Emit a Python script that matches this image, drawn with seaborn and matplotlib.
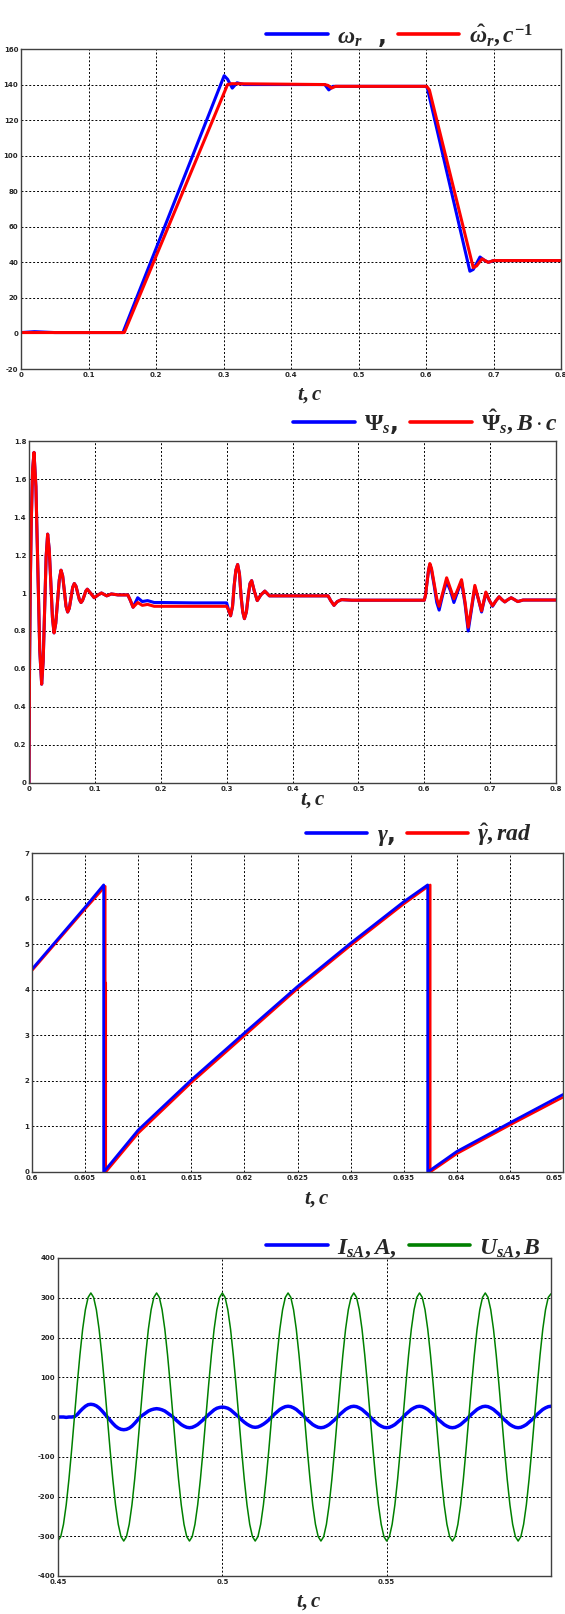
import numpy as np
import matplotlib
matplotlib.use("Agg")
import matplotlib.pyplot as plt
from matplotlib.lines import Line2D
from matplotlib.ticker import FuncFormatter
import seaborn as sns

# panel 1: rotor speed, measured (blue) and estimated (red)
w_t_act = [0, 0.02, 0.05, 0.151, 0.301, 0.306, 0.313, 0.32, 0.33, 0.45, 0.456, 0.462,
           0.47, 0.6, 0.602, 0.665, 0.67, 0.68, 0.687, 0.693, 0.7, 0.8]
w_act = [0.5, 1, 0.5, 0.5, 145, 143, 138, 141, 140, 140, 137, 139,
         139, 139, 138, 35, 36, 43, 41, 40, 41, 41]
w_t_est = [0, 0.153, 0.306, 0.312, 0.45, 0.455, 0.46, 0.466, 0.601, 0.605, 0.67,
           0.675, 0.683, 0.692, 0.7, 0.8]
w_est = [0.5, 0.5, 140, 140.5, 140, 139.5, 138, 139, 139, 137, 37,
         38, 42, 40, 41, 41]

# panel 2: stator flux linkage
psi_t = [0, 0.0008, 0.002, 0.0035, 0.0055, 0.0076, 0.0105, 0.0134, 0.0163, 0.0192,
         0.0215, 0.02375, 0.026, 0.0283, 0.0307, 0.0332, 0.0356, 0.038, 0.0406, 0.0433,
         0.046, 0.0486, 0.0511, 0.0537, 0.0562, 0.0587, 0.0612, 0.0638, 0.0663, 0.0688,
         0.0714, 0.0739, 0.0765, 0.079, 0.0812, 0.0838, 0.0862, 0.0885, 0.094, 0.099,
         0.105, 0.11, 0.118, 0.125, 0.135, 0.15, 0.154, 0.158, 0.165, 0.172, 0.18, 0.19,
         0.2, 0.25, 0.3, 0.303, 0.306, 0.309, 0.3115, 0.314, 0.3167, 0.3195, 0.322, 0.3245,
         0.327, 0.33, 0.333, 0.3355, 0.338, 0.342, 0.3465, 0.352, 0.358, 0.365, 0.38,
         0.4, 0.43, 0.454, 0.458, 0.463, 0.468, 0.4745, 0.49, 0.55, 0.6, 0.602, 0.604,
         0.6065, 0.6085, 0.611, 0.615, 0.619, 0.6226, 0.628, 0.634, 0.64, 0.645, 0.651,
         0.6566, 0.662, 0.6667, 0.672, 0.6768, 0.682, 0.687, 0.6935, 0.699, 0.7037,
         0.709, 0.7137, 0.718, 0.7223, 0.727, 0.732, 0.737, 0.742, 0.75, 0.8]
psi_act = [0, 0.6, 1.05, 1.38, 1.65, 1.74, 1.56, 1.13, 0.70, 0.52,
           0.64, 0.915, 1.19, 1.31, 1.23, 1.05, 0.87, 0.79, 0.84, 0.955,
           1.07, 1.12, 1.09, 1.01, 0.93, 0.9, 0.92, 0.975, 1.03, 1.05,
           1.035, 1.0, 0.965, 0.95, 0.96, 0.985, 1.01, 1.02, 0.997, 0.975,
           0.99, 1.0, 0.985, 0.995, 0.99, 0.99, 0.96, 0.925, 0.975, 0.955, 0.96, 0.95,
           0.95, 0.948, 0.948, 0.91, 0.88, 0.93, 1.04, 1.12, 1.15, 1.1, 0.98, 0.9,
           0.865, 0.9, 0.99, 1.05, 1.065, 1.01, 0.96, 0.99, 1.01, 0.985, 0.985,
           0.985, 0.985, 0.985, 0.96, 0.935, 0.955, 0.965, 0.962, 0.962, 0.962, 0.99, 1.05,
           1.12, 1.15, 1.12, 1.04, 0.95, 0.91, 0.99, 1.06, 1.01, 0.95, 1.01,
           1.06, 0.94, 0.80, 0.92, 1.03, 0.97, 0.9, 1.0, 0.96, 0.93,
           0.96, 0.98, 0.965, 0.953, 0.965, 0.975, 0.965, 0.955, 0.963, 0.963]
psi_est = [0, 0.6, 1.05, 1.38, 1.65, 1.74, 1.56, 1.13, 0.70, 0.52,
           0.64, 0.915, 1.19, 1.31, 1.23, 1.05, 0.87, 0.79, 0.84, 0.955,
           1.07, 1.12, 1.09, 1.01, 0.93, 0.9, 0.92, 0.975, 1.03, 1.05,
           1.035, 1.0, 0.965, 0.95, 0.96, 0.985, 1.01, 1.02, 0.997, 0.975,
           0.99, 1.0, 0.985, 0.995, 0.99, 0.99, 0.96, 0.925, 0.95, 0.935, 0.94, 0.93,
           0.93, 0.93, 0.93, 0.91, 0.88, 0.93, 1.04, 1.12, 1.15, 1.1, 0.98, 0.9,
           0.865, 0.9, 0.99, 1.05, 1.065, 1.01, 0.96, 0.99, 1.01, 0.985, 0.985,
           0.985, 0.985, 0.985, 0.96, 0.935, 0.955, 0.965, 0.962, 0.962, 0.962, 0.99, 1.05,
           1.12, 1.155, 1.13, 1.05, 0.97, 0.93, 1.0, 1.08, 1.02, 0.97, 1.02,
           1.07, 0.95, 0.82, 0.93, 1.04, 0.97, 0.906, 1.005, 0.96, 0.933,
           0.96, 0.98, 0.965, 0.953, 0.965, 0.975, 0.965, 0.955, 0.963, 0.963]

# panel 3: flux angle
gam_t_act = [0.6, 0.605, 0.60675, 0.60675, 0.61, 0.615, 0.62, 0.625, 0.63, 0.635,
             0.63726, 0.63726, 0.64, 0.645, 0.65]
gam_act = [4.45, 5.81, 6.3, 0.0, 0.92, 2.02, 3.05, 4.07, 5.02, 5.93,
           6.3, 0.0, 0.45, 1.08, 1.7]
gam_t_est = [0.6, 0.605, 0.6069, 0.6069, 0.60695, 0.60695, 0.61, 0.615, 0.62, 0.625,
             0.63, 0.635, 0.6375, 0.6375, 0.64, 0.645, 0.65]
gam_est = [4.42, 5.77, 6.27, 4.15, 4.15, 0.0, 0.85, 1.96, 2.99, 4.02,
           4.97, 5.88, 6.3, 0.0, 0.4, 1.03, 1.64]

# panel 4: phase A current and voltage, sampled evenly over 0.45..0.60 s
i_sa = [0, 0, 0, -1, 0, 0, 1, 6, 14, 21, 27, 31,
        32, 31, 28, 23, 16, 8, 0, -8, -16, -23, -28, -31,
        -32, -31, -28, -23, -16, -8, 0, 5, 10, 15, 18, 20,
        21, 20, 18, 15, 10, 5, 0, -7, -13, -19, -23, -26,
        -27, -26, -23, -19, -13, -7, 0, 6, 12, 18, 22, 24,
        25, 24, 22, 18, 12, 6, 0, -7, -13, -18, -22, -25,
        -26, -25, -22, -18, -13, -7, 0, 7, 13, 19, 23, 26,
        27, 26, 23, 19, 13, 7, 0, -7, -13, -19, -23, -26,
        -27, -26, -23, -19, -13, -7, 0, 7, 13, 19, 23, 26,
        27, 26, 23, 19, 13, 7, 0, -7, -13, -19, -23, -26,
        -27, -26, -23, -19, -13, -7, 0, 7, 13, 19, 23, 26,
        27, 26, 23, 19, 13, 7, 0, -7, -13, -19, -23, -26,
        -27, -26, -23, -19, -13, -7, 0, 7, 13, 19, 23, 26,
        27, 26, 23, 19, 13, 7, 0, -7, -13, -19, -23, -26,
        -27, -26, -23, -19, -13, -7, 0, 7, 13, 19, 23, 26,
        27]
u_sa = [-311, -301, -270, -221, -156, -81, 0, 81, 156, 221, 270, 301,
        312, 301, 270, 221, 156, 81, 0, -81, -156, -221, -270, -301,
        -312, -301, -270, -221, -156, -81, 0, 81, 156, 221, 270, 301,
        312, 301, 270, 221, 156, 81, 0, -81, -156, -221, -270, -301,
        -312, -301, -270, -221, -156, -81, 0, 81, 156, 221, 270, 301,
        312, 301, 270, 221, 156, 81, 0, -81, -156, -221, -270, -301,
        -312, -301, -270, -221, -156, -81, 0, 81, 156, 221, 270, 301,
        312, 301, 270, 221, 156, 81, 0, -81, -156, -221, -270, -301,
        -312, -301, -270, -221, -156, -81, 0, 81, 156, 221, 270, 301,
        312, 301, 270, 221, 156, 81, 0, -81, -156, -221, -270, -301,
        -312, -301, -270, -221, -156, -81, 0, 81, 156, 221, 270, 301,
        312, 301, 270, 221, 156, 81, 0, -81, -156, -221, -270, -301,
        -312, -301, -270, -221, -156, -81, 0, 81, 156, 221, 270, 301,
        312, 301, 270, 221, 156, 81, 0, -81, -156, -221, -270, -301,
        -312, -301, -270, -221, -156, -81, 0, 81, 156, 221, 270, 301,
        310]
t4 = np.linspace(0.45, 0.60, len(u_sa))

sns.set_style("white")
plt.rcParams["font.family"] = ["Liberation Sans Narrow", "DejaVu Sans"]
plt.rcParams["font.weight"] = "bold"
plt.rcParams["mathtext.fontset"] = "custom"
plt.rcParams["mathtext.it"] = "Liberation Serif:italic:bold"
plt.rcParams["mathtext.rm"] = "Liberation Serif:bold"
plt.rcParams["mathtext.bf"] = "Liberation Serif:bold"

W, H = 565, 1614
fig = plt.figure(figsize=(W / 100, H / 100), dpi=100)

BLUE, RED, GREEN = "#0000ff", "#ff0000", "#008000"


def make_axes(l, t, r, b, xlim, ylim, xticks, yticks):
    ax = fig.add_axes([l / W, 1 - b / H, (r - l) / W, (b - t) / H])
    ax.set_xlim(xlim)
    ax.set_ylim(ylim)
    ax.set_xticks(xticks)
    ax.set_yticks(yticks)
    fmt = FuncFormatter(lambda v, _: f"{v:g}")
    ax.xaxis.set_major_formatter(fmt)
    ax.yaxis.set_major_formatter(fmt)
    ax.grid(True, linestyle=(0, (2, 2)), color="black", linewidth=0.7)
    ax.set_axisbelow(True)
    ax.tick_params(direction="in", length=3, width=0.6, labelsize=5, pad=2)
    for s in ax.spines.values():
        s.set_color("#404040")
        s.set_linewidth(1.0)
    return ax


def legend(ax, colors, labels, right, ymid):
    handles = [Line2D([], [], color=c, lw=2.6) for c in colors]
    ax.legend(handles, labels, ncol=2, loc="center right",
              bbox_to_anchor=(right / W, 1 - ymid / H), bbox_transform=fig.transFigure,
              frameon=False, fontsize=17, handlelength=2.6, handletextpad=0.4,
              columnspacing=0.5, borderpad=0, borderaxespad=0)


def xlabel(x, y):
    fig.text(x / W, 1 - y / H, r"$t, c$", ha="center", va="center", fontsize=15)


def draw(ax, x, y, color, lw):
    sns.lineplot(x=x, y=y, ax=ax, color=color, linewidth=lw,
                 estimator=None, sort=False)


# panel 1
ax1 = make_axes(21, 49, 561, 369, (0, 0.8), (-20, 160),
                np.arange(0, 0.81, 0.1), np.arange(-20, 161, 20))
draw(ax1, w_t_act, w_act, BLUE, 2.2)
draw(ax1, w_t_est, w_est, RED, 2.2)
legend(ax1, [BLUE, RED], [r"$\omega_r$  ,", r"$\hat{\omega}_r, c^{-1}$"], 533, 36)
xlabel(310, 395)

# panel 2
ax2 = make_axes(29, 441, 556, 783, (0, 0.8), (0, 1.8),
                np.arange(0, 0.81, 0.1), np.arange(0, 1.81, 0.2))
draw(ax2, psi_t, psi_act, BLUE, 2.2)
draw(ax2, psi_t, psi_est, RED, 2.2)
legend(ax2, [BLUE, RED], [r"$\Psi_s$,", r"$\hat{\Psi}_s, B\cdot c$"], 558, 422)
xlabel(313, 800)

# panel 3
ax3 = make_axes(32, 853, 563, 1172, (0.6, 0.65), (0, 7),
                np.arange(0.6, 0.6501, 0.005), np.arange(0, 8, 1))
draw(ax3, gam_t_est, gam_est, RED, 1.8)
draw(ax3, gam_t_act, gam_act, BLUE, 2.0)
legend(ax3, [BLUE, RED], [r"$\gamma$,", r"$\hat{\gamma}, rad$"], 532, 835)
xlabel(317, 1199)
ax3.xaxis.get_major_ticks()[-1].label1.set_horizontalalignment("right")

# panel 4
ax4 = make_axes(58, 1258, 551, 1576, (0.45, 0.6), (-400, 400),
                [0.45, 0.5, 0.55], np.arange(-400, 401, 100))
draw(ax4, t4, i_sa, BLUE, 2.5)
draw(ax4, t4, u_sa, GREEN, 1.1)
legend(ax4, [BLUE, GREEN], [r"$I_{sA}, A,$", r"$U_{sA}, B$"], 541, 1247)
xlabel(309, 1602)

for ax in (ax1, ax2, ax3, ax4):
    ax.set_xlabel("")
    ax.set_ylabel("")

fig.savefig("out.png", dpi=100)
